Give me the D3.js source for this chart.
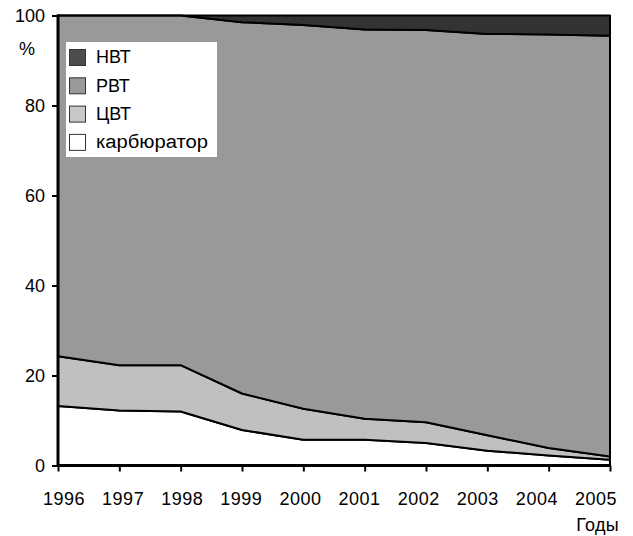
<!DOCTYPE html>
<html>
<head>
<meta charset="utf-8">
<script src="https://cdn.jsdelivr.net/npm/d3@7"></script>
<style>
  body { margin: 0; background: #fff; }
  svg text { font-family: "Liberation Sans", Arial, Helvetica, sans-serif; fill: #000; }
</style>
</head>
<body>
<svg id="chart" width="633" height="536"></svg>
<script>
// Shares of engine types by year, %
const years = [1996, 1997, 1998, 1999, 2000, 2001, 2002, 2003, 2004, 2005];
const carburetor = [13.2, 12.2, 12.0, 7.9, 5.7, 5.7, 5.0, 3.3, 2.2, 1.3];
const cvt = [11.1, 10.1, 10.3, 8.1, 6.9, 4.7, 4.6, 3.4, 1.7, 0.7];
const rvt = [75.7, 77.7, 77.7, 82.5, 85.3, 86.5, 87.2, 89.2, 91.9, 93.5];
const nvt = [0, 0, 0, 1.5, 2.1, 3.1, 3.2, 4.1, 4.2, 4.5];
const yTicks = [0, 20, 40, 60, 80, 100];

const seriesNames = ["карбюратор", "ЦВТ", "РВТ", "НВТ"];
const seriesFill = { "карбюратор": "#ffffff", "ЦВТ": "#c0c0c0", "РВТ": "#999999", "НВТ": "#333333" };
const seriesSwatch = { "карбюратор": "#ffffff", "ЦВТ": "#c8c8c8", "РВТ": "#999999", "НВТ": "#4d4d4d" };

const rows = years.map((yr, i) => ({
  year: yr,
  "карбюратор": carburetor[i],
  "ЦВТ": cvt[i],
  "РВТ": rvt[i],
  "НВТ": nvt[i]
}));

const svg = d3.select("#chart");
const plotLeft = 58, plotRight = 610, plotTop = 15.5, plotBottom = 465.5;

const x = d3.scaleLinear().domain([1996, 2005]).range([plotLeft, plotRight]);
// year captions sit on a slightly narrower, shifted run than the tick marks
const xLabel = d3.scaleLinear().domain([1996, 2005]).range([63.5, 595.5]);
const y = d3.scaleLinear().domain([0, 100]).range([plotBottom, plotTop]);

const stacked = d3.stack().keys(seriesNames)(rows);

const area = d3.area()
  .x(d => x(d.data.year))
  .y0(d => y(d[0]))
  .y1(d => y(d[1]));

svg.append("g")
  .selectAll("path")
  .data(stacked)
  .join("path")
  .attr("d", area)
  .attr("fill", d => seriesFill[d.key])
  .attr("stroke", "#000")
  .attr("stroke-width", 2)
  .attr("stroke-linejoin", "round");

// X axis: tick marks
const xAxis = d3.axisBottom(x).tickValues(years).tickFormat("").tickSize(6);
const gx = svg.append("g").attr("transform", `translate(0,${plotBottom})`).call(xAxis);
gx.select(".domain").attr("stroke", "#000").attr("stroke-width", 3)
  .attr("d", `M${plotLeft - 1},0H${plotRight + 1}`);
gx.selectAll(".tick line").attr("stroke", "#000").attr("stroke-width", 2);

// X axis: year captions
const xLabelAxis = d3.axisBottom(xLabel).tickValues(years).tickFormat(d3.format("d"))
  .tickSize(0).tickPadding(27);
const gxl = svg.append("g").attr("transform", `translate(0,${plotBottom})`).call(xLabelAxis);
gxl.select(".domain").remove();
gxl.selectAll(".tick text").style("font-size", "18px").style("letter-spacing", "0.5px")
  .style("font-family", "'Liberation Sans', Arial, sans-serif");

// Y axis
const yAxis = d3.axisLeft(y).tickValues(yTicks).tickSize(6).tickPadding(7);
const gy = svg.append("g").attr("transform", `translate(${plotLeft},0)`).call(yAxis);
gy.select(".domain").attr("stroke", "#000").attr("stroke-width", 3)
  .attr("d", `M0,${plotTop - 1}V${plotBottom + 1}`);
gy.selectAll(".tick line").attr("stroke", "#000").attr("stroke-width", 2);
gy.selectAll(".tick text").style("font-size", "18px")
  .style("font-family", "'Liberation Sans', Arial, sans-serif");

// Axis titles
svg.append("text").attr("x", 19).attr("y", 55)
  .style("font-size", "18px").text("%");
svg.append("text").attr("x", 619).attr("y", 531).attr("text-anchor", "end")
  .style("font-size", "18px").style("letter-spacing", "0.3px").text("Годы");

// Legend (top series listed first)
const legend = svg.append("g");
legend.append("rect").attr("x", 66).attr("y", 42).attr("width", 151).attr("height", 115)
  .attr("fill", "#fff");
const legendOrder = seriesNames.slice().reverse();
const item = legend.selectAll("g.item").data(legendOrder).join("g")
  .attr("class", "item")
  .attr("transform", (d, i) => `translate(69,${57 + i * 28.3})`);
item.append("rect").attr("x", 0.5).attr("y", -7.5).attr("width", 16).attr("height", 16)
  .attr("fill", d => seriesSwatch[d]).attr("stroke", "#333").attr("stroke-width", 1);
item.append("text").attr("x", 27).attr("y", 0).attr("dy", "0.35em")
  .style("font-size", "18px").text(d => d)
  .each(function (d) {
    // the long lowercase caption is set a little wider
    if (d === "карбюратор") d3.select(this).attr("textLength", 112).attr("lengthAdjust", "spacingAndGlyphs");
  });
</script>
</body>
</html>
